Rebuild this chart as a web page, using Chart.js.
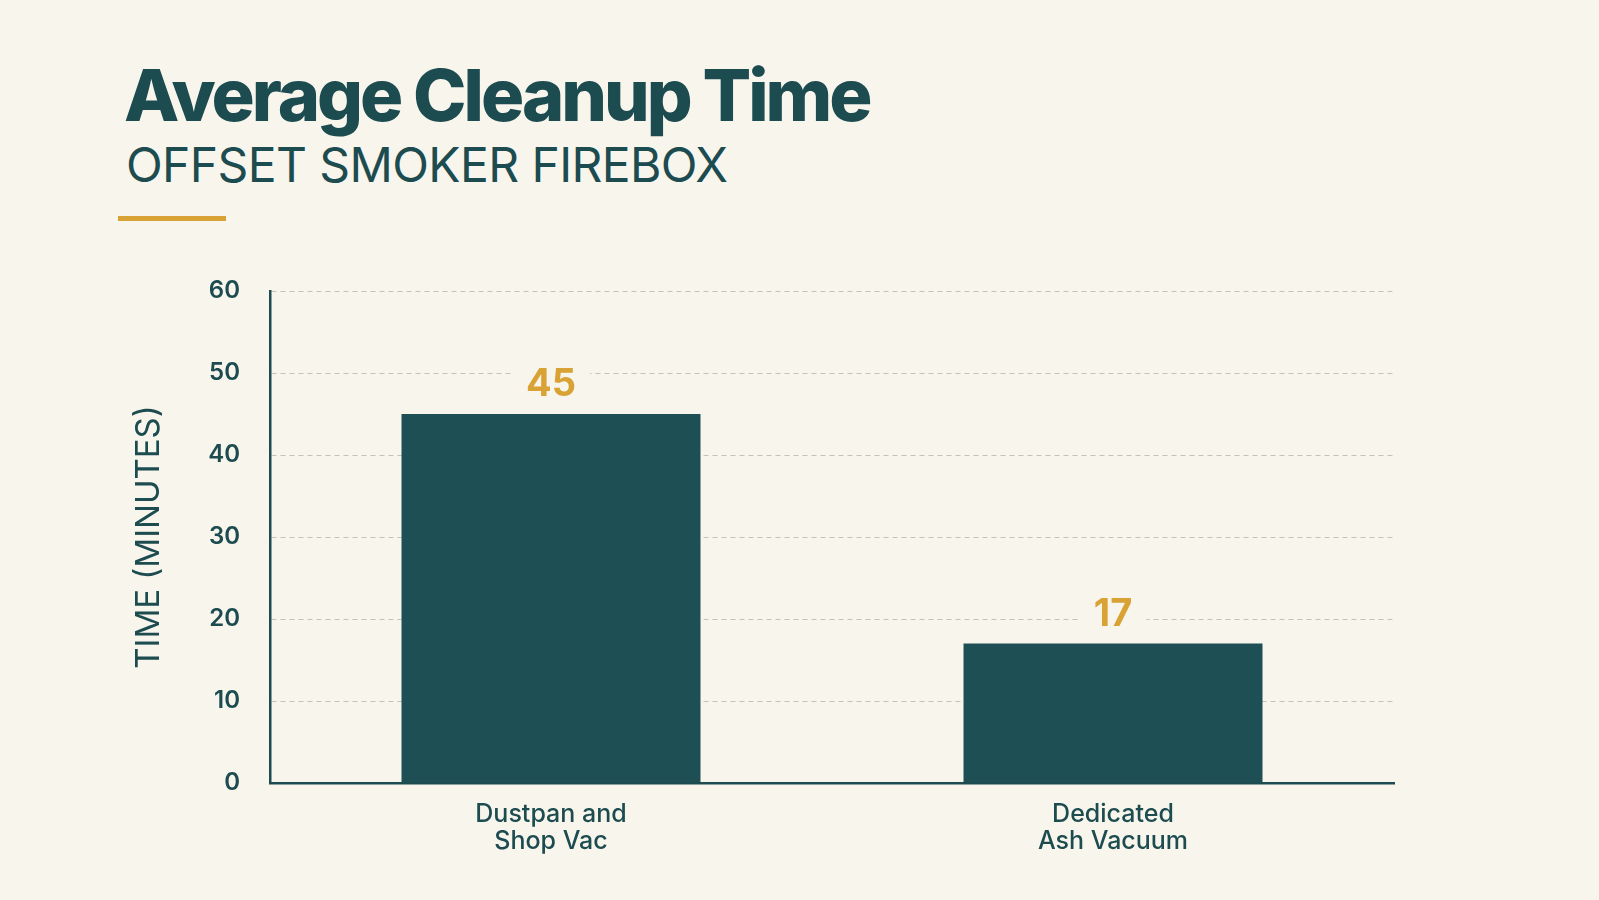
<!DOCTYPE html>
<html>
<head>
<meta charset="utf-8">
<script src="https://cdn.jsdelivr.net/npm/chart.js@4.4.1/dist/chart.umd.min.js"></script>
<style>
  html, body { margin: 0; padding: 0; background: #f8f5ec; }
  body { width: 1599px; height: 900px; position: relative; overflow: hidden; font-family: Inter, "Noto Sans", sans-serif; }
  #title { position: absolute; left: 124px; top: 59px; font-size: 72px; line-height: 1; font-weight: 800; color: #1c4b50; letter-spacing: -3px; white-space: nowrap; }
  #subtitle { position: absolute; left: 126px; top: 141px; font-size: 48px; line-height: 1; font-weight: 400; color: #1c4b50; letter-spacing: -0.6px; white-space: nowrap; }
  #rule { position: absolute; left: 118px; top: 216px; width: 108px; height: 5px; background: #d9a235; }
  #wrap { position: absolute; left: 0; top: 0; width: 1599px; height: 900px; }
</style>
</head>
<body>
<div id="title">Average Cleanup Time</div>
<div id="subtitle">OFFSET SMOKER FIREBOX</div>
<div id="rule"></div>
<div id="wrap"><canvas id="chart"></canvas></div>
<script>
// Chart data
const categories = [['Dustpan and', 'Shop Vac'], ['Dedicated', 'Ash Vacuum']];
const cleanupMinutes = [45, 17];
const yTicks = [0, 10, 20, 30, 40, 50, 60];

const TEAL = '#1c4b50';
const BAR = '#1e4f55';
const GOLD = '#d9a235';
const BG = '#f8f5ec';

// Draws the value above each bar on a background box that cuts the grid line
const valueLabels = {
    id: 'valueLabels',
    afterDatasetsDraw(chart) {
        const ctx = chart.ctx;
        const meta = chart.getDatasetMeta(0);
        ctx.save();
        ctx.font = '700 38px Inter, "Noto Sans", sans-serif';
        ctx.textAlign = 'center';
        ctx.textBaseline = 'middle';
        meta.data.forEach((bar, i) => {
            const text = String(cleanupMinutes[i]);
            const y = bar.y - 30;
            const w = ctx.measureText(text).width + 28;
            ctx.fillStyle = BG;
            ctx.fillRect(bar.x - w / 2, y - 20, w, 40);
            ctx.fillStyle = GOLD;
            ctx.fillText(text, bar.x, y + 1);
        });
        ctx.restore();
    }
};

new Chart(document.getElementById('chart'), {
    type: 'bar',
    data: {
        labels: categories,
        datasets: [{
            data: cleanupMinutes,
            backgroundColor: BAR,
            borderWidth: 0,
            barPercentage: 0.532,
            categoryPercentage: 1
        }]
    },
    options: {
        responsive: true,
        maintainAspectRatio: false,
        animation: false,
        devicePixelRatio: 1,
        layout: { padding: { top: 291, right: 205, bottom: 0, left: 0 } },
        plugins: {
            legend: { display: false },
            tooltip: { enabled: false }
        },
        scales: {
            x: {
                grid: { display: false, drawTicks: false },
                border: { display: true, color: TEAL, width: 2.5 },
                ticks: {
                    color: TEAL,
                    padding: 18,
                    font: { family: 'Inter, "Noto Sans", sans-serif', size: 25, weight: 500, lineHeight: 1.08 }
                },
                afterFit(scale) { scale.height = 117; }
            },
            y: {
                min: 0,
                max: 60,
                afterBuildTicks(scale) { scale.ticks = yTicks.map(v => ({ value: v })); },
                grid: { color: '#c4c3ba', lineWidth: 1, drawTicks: false },
                border: { display: true, color: TEAL, width: 2.5, dash: [5, 4] },
                ticks: {
                    color: TEAL,
                    padding: 30,
                    font: { family: 'Inter, "Noto Sans", sans-serif', size: 24, weight: 600 }
                },
                title: {
                    display: true,
                    text: 'TIME (MINUTES)',
                    color: TEAL,
                    padding: { top: 129, bottom: 0 },
                    font: { family: 'Inter, "Noto Sans", sans-serif', size: 33, weight: 400 }
                },
                afterFit(scale) { scale.width = 270; }
            }
        }
    },
    plugins: [valueLabels]
});
</script>
</body>
</html>
